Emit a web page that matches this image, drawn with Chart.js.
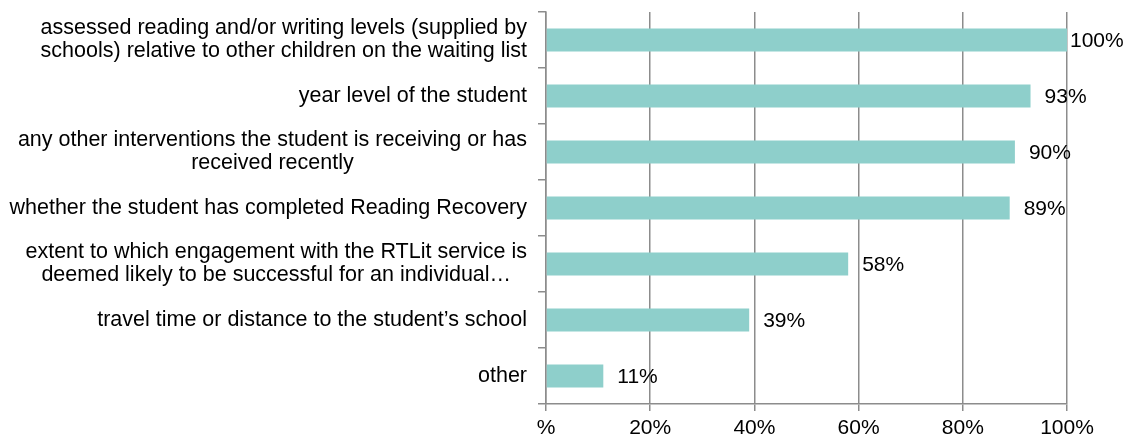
<!DOCTYPE html>
<html lang="en">
<head>
  <meta charset="utf-8">
  <title>Waiting list criteria</title>
  <script src="https://cdn.jsdelivr.net/npm/chart.js@4.4.1/dist/chart.umd.min.js"></script>
  <style>
    html, body { margin: 0; padding: 0; background: #fff; }
    #wrap { width: 1138px; height: 441px; }
  </style>
</head>
<body>
  <div id="wrap"><canvas id="criteriaChart" width="1138" height="441"></canvas></div>
  <script>
    // category labels (one entry per bar, split into lines)
    const categories = [
      ['assessed reading and/or writing levels (supplied by', 'schools) relative to other children on the waiting list'],
      ['year level of the student'],
      ['any other interventions the student is receiving or has', 'received recently'],
      ['whether the student has completed Reading Recovery'],
      ['extent to which engagement with the RTLit service is', 'deemed likely to be successful for an individual\u2026'],
      ['travel time or distance to the student\u2019s school'],
      ['other']
    ];
    const percentages = [100, 93, 90, 89, 58, 39, 11];
    const xTicks = [0, 20, 40, 60, 80, 100];

    const FONT = '"Liberation Sans", Arial, sans-serif';
    const TEXT = '#000';
    const GRID = '#8c8c8c';
    const BAR = '#8ECFCB';

    // category labels drawn by hand so that each block is centred line by line
    const categoryLabels = {
      id: 'categoryLabels',
      afterDraw(chart) {
        const { ctx, scales: { y }, chartArea } = chart;
        const right = chartArea.left - 19;
        const lh = 23;
        ctx.save();
        ctx.font = '21.5px ' + FONT;
        ctx.fillStyle = TEXT;
        ctx.textAlign = 'center';
        ctx.textBaseline = 'middle';
        categories.forEach((lines, i) => {
          const cy = y.getPixelForTick(i);
          const w = Math.max(...lines.map(l => ctx.measureText(l).width));
          const cx = right - w / 2;
          lines.forEach((l, j) => {
            ctx.fillText(l, cx, cy + (j - (lines.length - 1) / 2) * lh);
          });
        });
        ctx.restore();
      }
    };

    // value labels at the end of each bar
    const valueLabels = {
      id: 'valueLabels',
      afterDatasetsDraw(chart) {
        const { ctx, chartArea } = chart;
        const meta = chart.getDatasetMeta(0);
        ctx.save();
        ctx.font = '21px ' + FONT;
        ctx.fillStyle = TEXT;
        ctx.textAlign = 'left';
        ctx.textBaseline = 'middle';
        meta.data.forEach((bar, i) => {
          const x = Math.min(bar.x + 14, chartArea.right + 3);
          ctx.fillText(percentages[i] + '%', x, bar.y + 1);
        });
        ctx.restore();
      }
    };

    const ctx = document.getElementById('criteriaChart').getContext('2d');
    new Chart(ctx, {
      type: 'bar',
      data: {
        labels: categories,
        datasets: [{
          data: percentages,
          backgroundColor: BAR,
          borderWidth: 0,
          categoryPercentage: 1,
          barPercentage: 0.41
        }]
      },
      options: {
        indexAxis: 'y',
        responsive: false,
        animation: false,
        layout: { padding: { top: 12, right: 71, left: 0, bottom: 0 } },
        plugins: {
          legend: { display: false },
          tooltip: { enabled: false }
        },
        scales: {
          x: {
            min: 0,
            max: 100,
            afterBuildTicks: s => { s.ticks = xTicks.map(v => ({ value: v })); },
            afterFit: s => { s.height = 37; },
            ticks: {
              callback: v => v === 0 ? '%' : v + '%',
              font: { family: FONT, size: 21 },
              color: TEXT,
              padding: 5,
              maxRotation: 0
            },
            grid: { color: GRID, lineWidth: 1.5, tickLength: 7 },
            border: { color: GRID, width: 1.5 }
          },
          y: {
            afterFit: s => { s.width = 546; },
            ticks: { display: false },
            grid: { offset: true, drawOnChartArea: false, color: GRID, lineWidth: 1.5, tickLength: 8 },
            border: { color: GRID, width: 1.5 }
          }
        }
      },
      plugins: [categoryLabels, valueLabels]
    });
  </script>
</body>
</html>
